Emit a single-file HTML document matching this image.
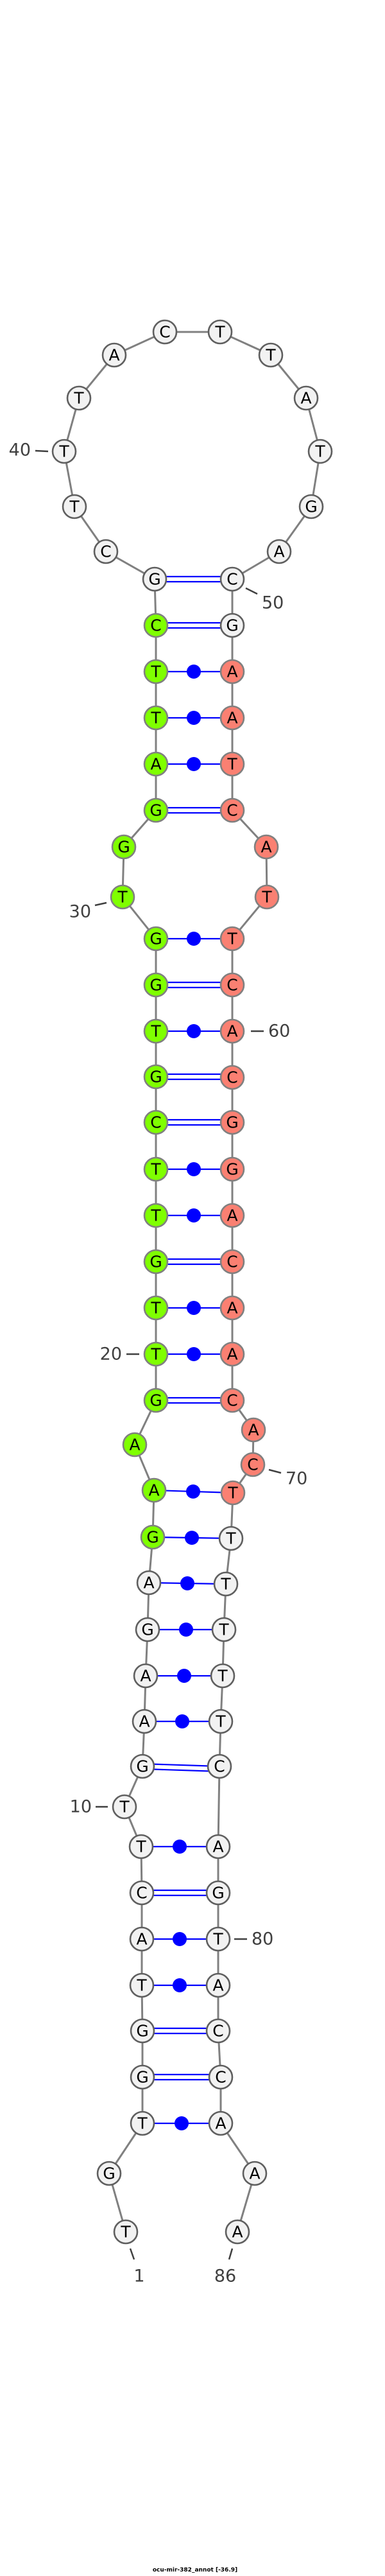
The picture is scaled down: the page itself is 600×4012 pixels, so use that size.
<!DOCTYPE html>
<html><head><meta charset="utf-8"><style>
html,body{margin:0;padding:0;background:#fff;}
svg{display:block;}
.b{stroke:#808080;stroke-width:3;fill:none;}
.p{stroke:#0000ff;stroke-width:2.2;}
.d{fill:#0000ff;}
.w{fill:#f2f2f2;stroke:#5f5f5f;stroke-width:2.6;}
.g{fill:#7fff00;stroke:#808080;stroke-width:2.6;}
.s{fill:#fa8072;stroke:#808080;stroke-width:2.6;}
.t{font-family:"DejaVu Sans","Liberation Sans",sans-serif;font-size:25px;text-anchor:middle;dominant-baseline:central;fill:#000;}
.n{font-family:"DejaVu Sans","Liberation Sans",sans-serif;font-size:27px;fill:#404040;dominant-baseline:central;}
.k{stroke:#404040;stroke-width:2.5;}
</style></head><body>
<svg width="600" height="4012" viewBox="0 0 600 4012" xmlns="http://www.w3.org/2000/svg">
<polyline class="b" points="196,3476 170,3385 222,3307 222,3235 222,3163 221,3092 221,3020 221,2948 220,2876 194,2814 222,2751 225,2681 227,2610 230,2538 232,2465 238,2394 240,2321 210,2250 243,2181 243,2109 243,2037 243,1965 243,1893 243,1821 243,1748 243,1677 243,1606 243,1534 243,1462 191,1397 193,1319 243,1262 243,1190 243,1118 243,1046 243,974 241,902 165,859 116,789 100,703 123,620 178,553 257,517 343,517 422,553 477,620 499,703 485,789 435,859 362,902 362,974 362,1046 362,1118 362,1190 362,1262 415,1319 416,1397 362,1462 362,1534 362,1606 362,1678 362,1748 362,1821 362,1893 362,1965 362,2037 362,2109 362,2181 395,2227 394,2281 363,2325 360,2396 352,2467 349,2538 347,2610 344,2681 342,2751 340,2876 340,2948 340,3020 340,3092 340,3163 344,3235 344,3307 397,3385 370,3476"/>
<!-- pairs -->
<g class="p">
<line x1="241" y1="898" x2="362" y2="898"/><line x1="241" y1="906" x2="362" y2="906"/>
<line x1="243" y1="970" x2="362" y2="970"/><line x1="243" y1="978" x2="362" y2="978"/>
<line x1="243" y1="1046" x2="362" y2="1046"/>
<line x1="243" y1="1118" x2="362" y2="1118"/>
<line x1="243" y1="1190" x2="362" y2="1190"/>
<line x1="243" y1="1258" x2="362" y2="1258"/><line x1="243" y1="1266" x2="362" y2="1266"/>
<line x1="243" y1="1462" x2="362" y2="1462"/>
<line x1="243" y1="1530" x2="362" y2="1530"/><line x1="243" y1="1538" x2="362" y2="1538"/>
<line x1="243" y1="1606" x2="362" y2="1606"/>
<line x1="243" y1="1673" x2="362" y2="1673"/><line x1="243" y1="1681" x2="362" y2="1681"/>
<line x1="243" y1="1744" x2="362" y2="1744"/><line x1="243" y1="1752" x2="362" y2="1752"/>
<line x1="243" y1="1821" x2="362" y2="1821"/>
<line x1="243" y1="1893" x2="362" y2="1893"/>
<line x1="243" y1="1961" x2="362" y2="1961"/><line x1="243" y1="1969" x2="362" y2="1969"/>
<line x1="243" y1="2037" x2="362" y2="2037"/>
<line x1="243" y1="2109" x2="362" y2="2109"/>
<line x1="243" y1="2177" x2="362" y2="2177"/><line x1="243" y1="2185" x2="362" y2="2185"/>
<line x1="240" y1="2321" x2="363" y2="2325"/>
<line x1="238" y1="2394" x2="360" y2="2396"/>
<line x1="232" y1="2465" x2="352" y2="2467"/>
<line x1="230" y1="2538" x2="349" y2="2538"/>
<line x1="227" y1="2610" x2="347" y2="2610"/>
<line x1="225" y1="2681" x2="344" y2="2681"/>
<line x1="222" y1="2747" x2="342" y2="2751"/><line x1="222" y1="2755" x2="342" y2="2759"/>
<line x1="220" y1="2876" x2="340" y2="2876"/>
<line x1="221" y1="2944" x2="340" y2="2944"/><line x1="221" y1="2952" x2="340" y2="2952"/>
<line x1="221" y1="3020" x2="340" y2="3020"/>
<line x1="221" y1="3092" x2="340" y2="3092"/>
<line x1="222" y1="3159" x2="340" y2="3159"/><line x1="222" y1="3167" x2="340" y2="3167"/>
<line x1="222" y1="3231" x2="344" y2="3231"/><line x1="222" y1="3239" x2="344" y2="3239"/>
<line x1="222" y1="3307" x2="344" y2="3307"/>
</g>
<g class="d">
<circle cx="302" cy="1046" r="11"/><circle cx="302" cy="1118" r="11"/><circle cx="302" cy="1190" r="11"/>
<circle cx="302" cy="1462" r="11"/><circle cx="302" cy="1606" r="11"/><circle cx="302" cy="1821" r="11"/>
<circle cx="302" cy="1893" r="11"/><circle cx="302" cy="2037" r="11"/><circle cx="302" cy="2109" r="11"/>
<circle cx="301" cy="2323" r="11"/><circle cx="299" cy="2395" r="11"/><circle cx="292" cy="2466" r="11"/>
<circle cx="290" cy="2538" r="11"/><circle cx="287" cy="2610" r="11"/><circle cx="284" cy="2681" r="11"/>
<circle cx="280" cy="2876" r="11"/><circle cx="280" cy="3020" r="11"/><circle cx="280" cy="3092" r="11"/>
<circle cx="283" cy="3307" r="11"/>
</g>
<!-- nodes -->
<g>
<circle class="w" cx="196" cy="3476" r="18"/><text class="t" x="196" y="3476">T</text>
<circle class="w" cx="170" cy="3385" r="18"/><text class="t" x="170" y="3385">G</text>
<circle class="w" cx="222" cy="3307" r="18"/><text class="t" x="222" y="3307">T</text>
<circle class="w" cx="222" cy="3235" r="18"/><text class="t" x="222" y="3235">G</text>
<circle class="w" cx="222" cy="3163" r="18"/><text class="t" x="222" y="3163">G</text>
<circle class="w" cx="221" cy="3092" r="18"/><text class="t" x="221" y="3092">T</text>
<circle class="w" cx="221" cy="3020" r="18"/><text class="t" x="221" y="3020">A</text>
<circle class="w" cx="221" cy="2948" r="18"/><text class="t" x="221" y="2948">C</text>
<circle class="w" cx="220" cy="2876" r="18"/><text class="t" x="220" y="2876">T</text>
<circle class="w" cx="194" cy="2814" r="18"/><text class="t" x="194" y="2814">T</text>
<circle class="w" cx="222" cy="2751" r="18"/><text class="t" x="222" y="2751">G</text>
<circle class="w" cx="225" cy="2681" r="18"/><text class="t" x="225" y="2681">A</text>
<circle class="w" cx="227" cy="2610" r="18"/><text class="t" x="227" y="2610">A</text>
<circle class="w" cx="230" cy="2538" r="18"/><text class="t" x="230" y="2538">G</text>
<circle class="w" cx="232" cy="2465" r="18"/><text class="t" x="232" y="2465">A</text>
<circle class="g" cx="238" cy="2394" r="18"/><text class="t" x="238" y="2394">G</text>
<circle class="g" cx="240" cy="2321" r="18"/><text class="t" x="240" y="2321">A</text>
<circle class="g" cx="210" cy="2250" r="18"/><text class="t" x="210" y="2250">A</text>
<circle class="g" cx="243" cy="2181" r="18"/><text class="t" x="243" y="2181">G</text>
<circle class="g" cx="243" cy="2109" r="18"/><text class="t" x="243" y="2109">T</text>
<circle class="g" cx="243" cy="2037" r="18"/><text class="t" x="243" y="2037">T</text>
<circle class="g" cx="243" cy="1965" r="18"/><text class="t" x="243" y="1965">G</text>
<circle class="g" cx="243" cy="1893" r="18"/><text class="t" x="243" y="1893">T</text>
<circle class="g" cx="243" cy="1821" r="18"/><text class="t" x="243" y="1821">T</text>
<circle class="g" cx="243" cy="1748" r="18"/><text class="t" x="243" y="1748">C</text>
<circle class="g" cx="243" cy="1677" r="18"/><text class="t" x="243" y="1677">G</text>
<circle class="g" cx="243" cy="1606" r="18"/><text class="t" x="243" y="1606">T</text>
<circle class="g" cx="243" cy="1534" r="18"/><text class="t" x="243" y="1534">G</text>
<circle class="g" cx="243" cy="1462" r="18"/><text class="t" x="243" y="1462">G</text>
<circle class="g" cx="191" cy="1397" r="18"/><text class="t" x="191" y="1397">T</text>
<circle class="g" cx="193" cy="1319" r="18"/><text class="t" x="193" y="1319">G</text>
<circle class="g" cx="243" cy="1262" r="18"/><text class="t" x="243" y="1262">G</text>
<circle class="g" cx="243" cy="1190" r="18"/><text class="t" x="243" y="1190">A</text>
<circle class="g" cx="243" cy="1118" r="18"/><text class="t" x="243" y="1118">T</text>
<circle class="g" cx="243" cy="1046" r="18"/><text class="t" x="243" y="1046">T</text>
<circle class="g" cx="243" cy="974" r="18"/><text class="t" x="243" y="974">C</text>
<circle class="w" cx="241" cy="902" r="18"/><text class="t" x="241" y="902">G</text>
<circle class="w" cx="165" cy="859" r="18"/><text class="t" x="165" y="859">C</text>
<circle class="w" cx="116" cy="789" r="18"/><text class="t" x="116" y="789">T</text>
<circle class="w" cx="100" cy="703" r="18"/><text class="t" x="100" y="703">T</text>
<circle class="w" cx="123" cy="620" r="18"/><text class="t" x="123" y="620">T</text>
<circle class="w" cx="178" cy="553" r="18"/><text class="t" x="178" y="553">A</text>
<circle class="w" cx="257" cy="517" r="18"/><text class="t" x="257" y="517">C</text>
<circle class="w" cx="343" cy="517" r="18"/><text class="t" x="343" y="517">T</text>
<circle class="w" cx="422" cy="553" r="18"/><text class="t" x="422" y="553">T</text>
<circle class="w" cx="477" cy="620" r="18"/><text class="t" x="477" y="620">A</text>
<circle class="w" cx="499" cy="703" r="18"/><text class="t" x="499" y="703">T</text>
<circle class="w" cx="485" cy="789" r="18"/><text class="t" x="485" y="789">G</text>
<circle class="w" cx="435" cy="859" r="18"/><text class="t" x="435" y="859">A</text>
<circle class="w" cx="362" cy="902" r="18"/><text class="t" x="362" y="902">C</text>
<circle class="w" cx="362" cy="974" r="18"/><text class="t" x="362" y="974">G</text>
<circle class="s" cx="362" cy="1046" r="18"/><text class="t" x="362" y="1046">A</text>
<circle class="s" cx="362" cy="1118" r="18"/><text class="t" x="362" y="1118">A</text>
<circle class="s" cx="362" cy="1190" r="18"/><text class="t" x="362" y="1190">T</text>
<circle class="s" cx="362" cy="1262" r="18"/><text class="t" x="362" y="1262">C</text>
<circle class="s" cx="415" cy="1319" r="18"/><text class="t" x="415" y="1319">A</text>
<circle class="s" cx="416" cy="1397" r="18"/><text class="t" x="416" y="1397">T</text>
<circle class="s" cx="362" cy="1462" r="18"/><text class="t" x="362" y="1462">T</text>
<circle class="s" cx="362" cy="1534" r="18"/><text class="t" x="362" y="1534">C</text>
<circle class="s" cx="362" cy="1606" r="18"/><text class="t" x="362" y="1606">A</text>
<circle class="s" cx="362" cy="1678" r="18"/><text class="t" x="362" y="1678">C</text>
<circle class="s" cx="362" cy="1748" r="18"/><text class="t" x="362" y="1748">G</text>
<circle class="s" cx="362" cy="1821" r="18"/><text class="t" x="362" y="1821">G</text>
<circle class="s" cx="362" cy="1893" r="18"/><text class="t" x="362" y="1893">A</text>
<circle class="s" cx="362" cy="1965" r="18"/><text class="t" x="362" y="1965">C</text>
<circle class="s" cx="362" cy="2037" r="18"/><text class="t" x="362" y="2037">A</text>
<circle class="s" cx="362" cy="2109" r="18"/><text class="t" x="362" y="2109">A</text>
<circle class="s" cx="362" cy="2181" r="18"/><text class="t" x="362" y="2181">C</text>
<circle class="s" cx="395" cy="2227" r="18"/><text class="t" x="395" y="2227">A</text>
<circle class="s" cx="394" cy="2281" r="18"/><text class="t" x="394" y="2281">C</text>
<circle class="s" cx="363" cy="2325" r="18"/><text class="t" x="363" y="2325">T</text>
<circle class="w" cx="360" cy="2396" r="18"/><text class="t" x="360" y="2396">T</text>
<circle class="w" cx="352" cy="2467" r="18"/><text class="t" x="352" y="2467">T</text>
<circle class="w" cx="349" cy="2538" r="18"/><text class="t" x="349" y="2538">T</text>
<circle class="w" cx="347" cy="2610" r="18"/><text class="t" x="347" y="2610">T</text>
<circle class="w" cx="344" cy="2681" r="18"/><text class="t" x="344" y="2681">T</text>
<circle class="w" cx="342" cy="2751" r="18"/><text class="t" x="342" y="2751">C</text>
<circle class="w" cx="340" cy="2876" r="18"/><text class="t" x="340" y="2876">A</text>
<circle class="w" cx="340" cy="2948" r="18"/><text class="t" x="340" y="2948">G</text>
<circle class="w" cx="340" cy="3020" r="18"/><text class="t" x="340" y="3020">T</text>
<circle class="w" cx="340" cy="3092" r="18"/><text class="t" x="340" y="3092">A</text>
<circle class="w" cx="340" cy="3163" r="18"/><text class="t" x="340" y="3163">C</text>
<circle class="w" cx="344" cy="3235" r="18"/><text class="t" x="344" y="3235">C</text>
<circle class="w" cx="344" cy="3307" r="18"/><text class="t" x="344" y="3307">A</text>
<circle class="w" cx="397" cy="3385" r="18"/><text class="t" x="397" y="3385">A</text>
<circle class="w" cx="370" cy="3476" r="18"/><text class="t" x="370" y="3476">A</text>
</g>
<!-- labels -->
<line class="k" x1="55" y1="702" x2="75" y2="703"/><text class="n" x="48" y="701" text-anchor="end">40</text>
<line class="k" x1="383" y1="916" x2="401" y2="925"/><text class="n" x="408" y="939">50</text>
<line class="k" x1="148" y1="1410" x2="166" y2="1406"/><text class="n" x="142" y="1420" text-anchor="end">30</text>
<line class="k" x1="391" y1="1606" x2="411" y2="1606"/><text class="n" x="418" y="1606">60</text>
<line class="k" x1="197" y1="2109" x2="217" y2="2109"/><text class="n" x="190" y="2109" text-anchor="end">20</text>
<line class="k" x1="419" y1="2289" x2="438" y2="2294"/><text class="n" x="445" y="2303">70</text>
<line class="k" x1="149" y1="2814" x2="168" y2="2814"/><text class="n" x="143" y="2814" text-anchor="end">10</text>
<line class="k" x1="365" y1="3020" x2="385" y2="3020"/><text class="n" x="392" y="3020">80</text>
<line class="k" x1="203" y1="3502" x2="209" y2="3519"/><text class="n" x="217" y="3545" text-anchor="middle">1</text>
<line class="k" x1="362" y1="3502" x2="357" y2="3519"/><text class="n" x="351" y="3545" text-anchor="middle">86</text>
<text x="304" y="4003" font-family="DejaVu Sans,Liberation Sans,sans-serif" font-size="9" font-weight="bold" text-anchor="middle" dominant-baseline="central" fill="#000">ocu-mir-382_annot [-36.9]</text>
</svg>
</body></html>
